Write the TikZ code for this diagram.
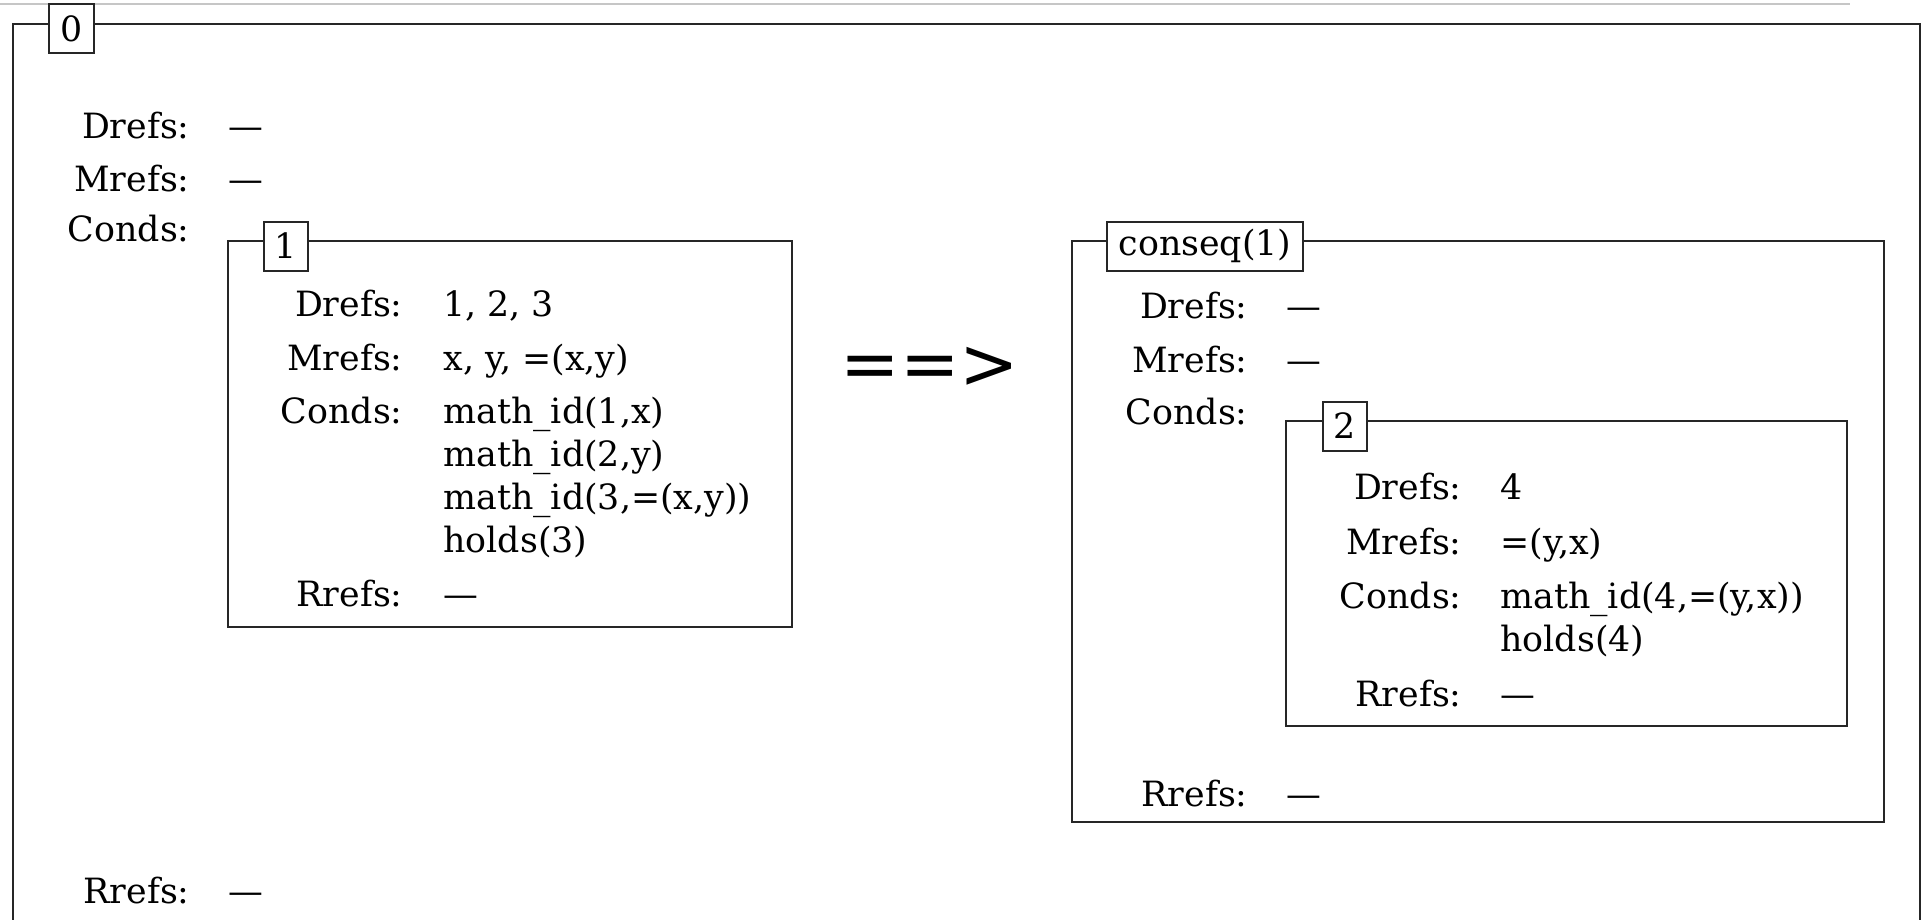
\documentclass[tikz,border=0pt]{standalone}
\usepackage{fontspec}
\setmainfont{DejaVu Serif}
\newfontfamily\arrowfont{DejaVu Sans}
\begin{document}
\begin{tikzpicture}[x=0.5pt,y=-0.5pt,
  txt/.style={font=\fontsize{17.4}{21}\selectfont},
  frame/.style={draw=black!85, line width=1pt},
  tag/.style={txt, draw=black!85, line width=1pt, fill=white, inner xsep=5.7pt, inner ysep=0pt, minimum height=24.5pt},
  key/.style={txt, anchor=base east, inner sep=0pt},
  entry/.style={txt, anchor=base west, inner sep=0pt},
]
\useasboundingbox (0,0) rectangle (1926,920);
\clip (0,0) rectangle (1926,920);
\draw[gray!45, line width=1pt] (0,4) -- (1850,4);

% outer box 0
\draw[frame] (13,24) rectangle (1920,960);
\node[tag] (t0) at (71.5,29) {0};
\node[key] (k0d) at (190,139) {Drefs:};
\node[entry] (v0d) at (228,139) {—};
\node[key] (k0m) at (190,191) {Mrefs:};
\node[entry] (v0m) at (228,191) {—};
\node[key] (k0c) at (190,241) {Conds:};
\node[key] (k0r) at (190,903) {Rrefs:};
\node[entry] (v0r) at (228,903) {—};

% box 1
\draw[frame] (228,241) rectangle (792,627);
\node[tag] (t1) at (286,246) {1};
\node[key] (k1d) at (403,316) {Drefs:};
\node[entry] (v1d) at (443,316) {1, 2, 3};
\node[key] (k1m) at (403,370) {Mrefs:};
\node[entry] (v1m) at (443,370) {x, y, =(x,y)};
\node[key] (k1c) at (403,423) {Conds:};
\node[entry] (v1c1) at (443,423) {math\_id(1,x)};
\node[entry] (v1c2) at (443,466) {math\_id(2,y)};
\node[entry] (v1c3) at (443,509) {math\_id(3,=(x,y))};
\node[entry] (v1c4) at (443,552) {holds(3)};
\node[key] (k1r) at (403,606) {Rrefs:};
\node[entry] (v1r) at (443,606) {—};

% implication sign
\node[inner sep=0pt, anchor=base, font=\arrowfont\fontsize{35.5}{40}\selectfont] (imp) at (930,388) {==>};

% conseq box
\draw[frame] (1072,241) rectangle (1884,822);
\node[tag] (tc) at (1205,246) {conseq(1)};
\node[key] (kcd) at (1248,318) {Drefs:};
\node[entry] (vcd) at (1286,318) {—};
\node[key] (kcm) at (1248,372) {Mrefs:};
\node[entry] (vcm) at (1286,372) {—};
\node[key] (kcc) at (1248,424) {Conds:};
\node[key] (kcr) at (1248,806) {Rrefs:};
\node[entry] (vcr) at (1286,806) {—};

% box 2
\draw[frame] (1286,421) rectangle (1847,726);
\node[tag] (t2) at (1345,426) {2};
\node[key] (k2d) at (1462,499) {Drefs:};
\node[entry] (v2d) at (1500,499) {4};
\node[key] (k2m) at (1462,554) {Mrefs:};
\node[entry] (v2m) at (1500,554) {=(y,x)};
\node[key] (k2c) at (1462,608) {Conds:};
\node[entry] (v2c1) at (1500,608) {math\_id(4,=(y,x))};
\node[entry] (v2c2) at (1500,651) {holds(4)};
\node[key] (k2r) at (1462,706) {Rrefs:};
\node[entry] (v2r) at (1500,706) {—};
\end{tikzpicture}
\end{document}
